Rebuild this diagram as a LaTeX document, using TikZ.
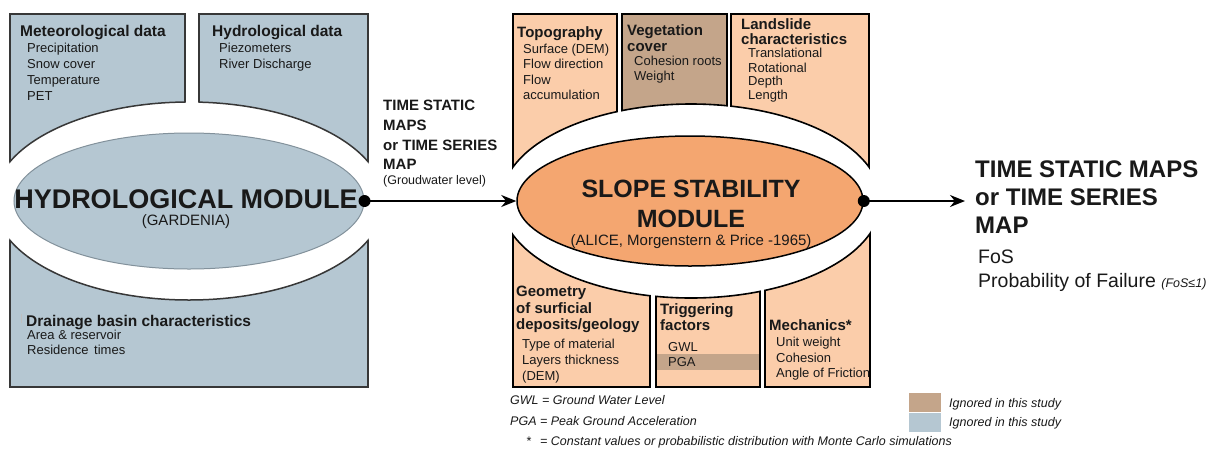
\documentclass[tikz,border=0pt]{standalone}
\usepackage{fontspec}
\setmainfont{Liberation Sans}
\usetikzlibrary{arrows.meta,shapes.geometric}
\definecolor{bluebox}{RGB}{181,199,210}
\definecolor{peach}{RGB}{251,205,170}
\definecolor{brownbox}{RGB}{196,165,138}
\definecolor{orangeell}{RGB}{244,166,112}
\definecolor{edgegrey}{RGB}{55,55,55}
\definecolor{ellgrey}{RGB}{130,145,155}
\definecolor{txt}{RGB}{25,25,25}
\tikzset{
  hd/.style={anchor=base west, inner sep=0pt, font=\fontsize{15.5pt}{18pt}\selectfont\bfseries, text=txt},
  hdm/.style={anchor=base west, inner sep=0pt, font=\fontsize{15pt}{18pt}\selectfont\bfseries, text=txt},
  itm/.style={anchor=base west, inner sep=0pt, font=\fontsize{13pt}{16pt}\selectfont, text=txt},
  note/.style={anchor=base west, inner sep=0pt, font=\fontsize{12.5pt}{15pt}\selectfont\itshape, text=txt},
  lbox/.style={fill=bluebox, draw=edgegrey, line width=1.5pt},
  obox/.style={fill=peach, draw=black, line width=1.6pt},
  bbox/.style={fill=brownbox, draw=black, line width=1.6pt},
  arr/.style={line width=1.8pt, -{Stealth[length=15pt,width=12pt]}},
  bigt/.style={anchor=base, inner sep=0pt, text=txt},
}
\begin{document}
\begin{tikzpicture}[x=1pt,y=-1pt]
\useasboundingbox (0,0) rectangle (1231,448);
\fill[white] (0,0) rectangle (1231,448);

% ---------- left module boxes ----------
\begin{scope}[even odd rule]
  \clip (-5,-5) rectangle (1240,460) (189,201) ellipse [x radius=195, y radius=99];
  \filldraw[lbox] (10,14) rectangle (185,220);
  \filldraw[lbox] (199,14) rectangle (368,220);
  \filldraw[lbox] (10,180) rectangle (368,387);
\end{scope}
\begin{scope}
  \clip (9.3,13) rectangle (185.7,201) (198.3,13) rectangle (368.7,201) (9.3,201) rectangle (368.7,388);
  \draw[edgegrey, line width=1.5pt] (189,201) ellipse [x radius=195, y radius=99];
\end{scope}
\draw[gray!50, line width=0.6pt] (21,314) -- (21,323);

% ---------- middle module boxes ----------
\begin{scope}[even odd rule]
  \clip (-5,-5) rectangle (1240,460) (691,201) ellipse [x radius=190, y radius=97];
  \filldraw[obox] (513,14) rectangle (617,220);
  \filldraw[bbox] (622,14) rectangle (727,220);
  \filldraw[obox] (731,14) rectangle (869,220);
  \filldraw[obox] (513,180) rectangle (650,387);
  \filldraw[obox] (656,180) rectangle (760,387);
  \filldraw[obox] (765,180) rectangle (870,387);
\end{scope}
\begin{scope}
  \clip (512.2,13) rectangle (617.8,201) (621.2,13) rectangle (727.8,201) (730.2,13) rectangle (869.8,201)
        (512.2,201) rectangle (650.8,388) (655.2,201) rectangle (760.8,388) (764.2,201) rectangle (870.8,388);
  \draw[black, line width=1.6pt] (691,201) ellipse [x radius=190, y radius=97];
\end{scope}
\fill[brownbox] (657,354) rectangle (759,370);

% ---------- module ellipses ----------
\node[ellipse, minimum width=350pt, minimum height=136pt, inner sep=0pt, fill=bluebox, draw=ellgrey, line width=1pt] (hm) at (189,201) {};
\node[ellipse, minimum width=346pt, minimum height=130pt, inner sep=0pt, fill=orangeell, draw=black, line width=1.5pt] (ss) at (690,201) {};

\node[bigt, font=\fontsize{27pt}{30pt}\selectfont\bfseries] (hmt) at (186,208) {HYDROLOGICAL MODULE};
\node[bigt, font=\fontsize{15pt}{18pt}\selectfont] (hms) at (186,225) {(GARDENIA)};
\node[bigt, font=\fontsize{25pt}{28pt}\selectfont\bfseries] (sst1) at (691,197) {SLOPE STABILITY};
\node[bigt, font=\fontsize{25pt}{28pt}\selectfont\bfseries] (sst2) at (691,227) {MODULE};
\node[bigt, font=\fontsize{15pt}{18pt}\selectfont] (sss) at (691,245) {(ALICE, Morgenstern \& Price -1965)};

% ---------- connectors ----------
\coordinate (outp) at (965,201);
\draw[arr] (hm.east) -- (ss.west);
\draw[arr] (ss.east) -- (outp);
\fill (hm.east) circle (6pt);
\fill (ss.east) circle (6pt);

% ---------- left texts ----------
\node[hd] (meth) at (20,36) {Meteorological data};
\foreach \t [count=\i from 0] in {Precipitation, Snow cover, Temperature, PET}
  \node[itm] (met\i) at (27,{52+16*\i}) {\t};
\node[hd] (hydh) at (212,36) {Hydrological data};
\foreach \t [count=\i from 0] in {Piezometers, River Discharge}
  \node[itm] (hyd\i) at (219,{52+16*\i}) {\t};
\node[hd] (drh) at (26,326) {Drainage basin characteristics};
\node[itm] (dr0) at (27,339) {Area \& reservoir};
\node[itm] (dr1) at (27,354) {Residence\hspace{2pt} times};

% ---------- arrow label ----------
\foreach \t/\y [count=\i] in {TIME STATIC/110, MAPS/130, or TIME SERIES/150, MAP/169}
  \node[anchor=base west, inner sep=0pt, font=\fontsize{15pt}{18pt}\selectfont\bfseries, text=txt] (lab\i) at (383,\y) {\t};
\node[anchor=base west, inner sep=0pt, font=\fontsize{12.5pt}{15pt}\selectfont, text=txt] (labs) at (383,184) {(Groudwater level)};

% ---------- middle top texts ----------
\node[hdm] (toph) at (517,37) {Topography};
\foreach \t/\y [count=\i] in {Surface (DEM)/53, Flow direction/68, Flow/84, accumulation/99}
  \node[itm] (top\i) at (523,\y) {\t};
\node[hdm] (vegh1) at (627,35) {Vegetation};
\node[hdm] (vegh2) at (627,51) {cover};
\node[itm] (veg1) at (634,65) {Cohesion roots};
\node[itm] (veg2) at (634,80) {Weight};
\node[hdm] (lsh1) at (741,29) {Landslide};
\node[hdm] (lsh2) at (741,44) {characteristics};
\foreach \t/\y [count=\i] in {Translational/57, Rotational/72, Depth/85, Length/99}
  \node[itm] (ls\i) at (748,\y) {\t};

% ---------- middle bottom texts ----------
\node[hdm] (geoh1) at (516,296) {Geometry};
\node[hdm] (geoh2) at (516,313) {of surficial};
\node[hdm] (geoh3) at (516,329) {deposits/geology};
\foreach \t/\y [count=\i] in {Type of material/348, Layers thickness/364, (DEM)/380}
  \node[itm] (geo\i) at (522,\y) {\t};
\node[hdm] (trh1) at (660,314) {Triggering};
\node[hdm] (trh2) at (660,330) {factors};
\node[itm] (tr1) at (668,351) {GWL};
\node[itm] (tr2) at (668,366) {PGA};
\node[hdm] (meh) at (769,330) {Mechanics*};
\foreach \t/\y [count=\i] in {Unit weight/346, Cohesion/362, Angle of Friction/377}
  \node[itm] (me\i) at (776,\y) {\t};

% ---------- notes ----------
\node[note] (n1) at (510,404) {GWL = Ground Water Level};
\node[note] (n2) at (510,425) {PGA = Peak Ground Acceleration};
\node[note] (n3a) at (526,445) {*};
\node[note] (n3b) at (540,445) {= Constant values or probabilistic distribution with Monte Carlo simulations};

% ---------- legend ----------
\fill[brownbox] (909,393) rectangle (941,412);
\fill[bluebox] (909,413) rectangle (941,432);
\node[note] (lg1) at (949,407) {Ignored in this study};
\node[note] (lg2) at (949,426) {Ignored in this study};

% ---------- output ----------
\foreach \t/\y [count=\i] in {TIME STATIC MAPS/177, or TIME SERIES/205, MAP/233}
  \node[anchor=base west, inner sep=0pt, font=\fontsize{24pt}{28pt}\selectfont\bfseries, text=txt] (out\i) at (975,\y) {\t};
\node[anchor=base west, inner sep=0pt, font=\fontsize{19.5pt}{22pt}\selectfont, text=txt] (fos) at (978,263) {FoS};
\node[anchor=base west, inner sep=0pt, font=\fontsize{19.5pt}{22pt}\selectfont, text=txt] (prob) at (978,287) {Probability of Failure};
\node[anchor=base west, inner sep=0pt, font=\fontsize{12.5pt}{14pt}\selectfont\itshape, text=txt] (fosc) at ([xshift=5pt]prob.base east) {(FoS≤1)};
\end{tikzpicture}
\end{document}
